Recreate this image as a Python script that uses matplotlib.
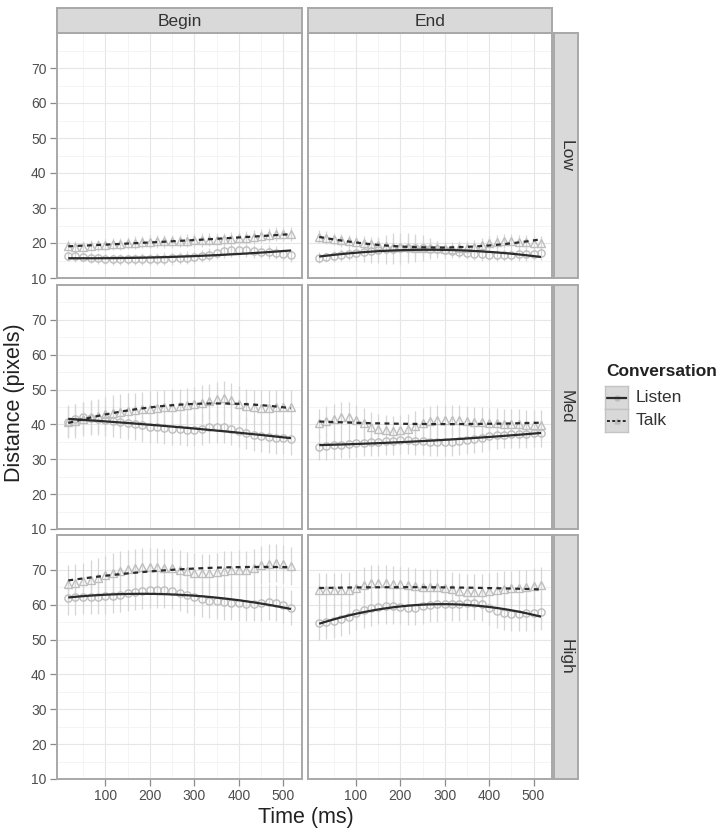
import matplotlib
matplotlib.use("Agg")
import matplotlib.pyplot as plt
import numpy as np

plt.rcParams['font.family'] = ['Liberation Sans', 'DejaVu Sans']

# ---------------- data ----------------
time_ms = [17, 33, 50, 67, 83, 100, 117, 133, 150, 167, 183, 200, 217, 233, 250, 267,
           283, 300, 317, 333, 350, 367, 383, 400, 417, 433, 450, 467, 483, 500, 517]
col_labels = ["Begin", "End"]
row_labels = ["Low", "Med", "High"]
series_labels = ["Listen", "Talk"]
y_ticks = [10, 20, 30, 40, 50, 60, 70]
x_ticks = [100, 200, 300, 400, 500]

# Low / Begin
listen_low_begin = [16.3, 16.2, 16.0, 15.8, 15.6, 15.5, 15.4, 15.3, 15.3, 15.3, 15.4, 15.4, 15.5, 15.5, 15.6, 15.7,
                    15.8, 16.0, 16.3, 16.7, 17.2, 17.6, 17.9, 18.0, 17.9, 17.6, 17.5, 17.4, 17.2, 16.8, 16.5]
listen_err_low_begin = [1.5, 1.5, 1.5, 1.5, 1.5, 1.6, 1.6, 1.6, 1.7, 1.7, 1.7, 1.7, 1.7, 1.8, 1.8, 1.8,
                        1.8, 1.8, 1.8, 1.9, 1.9, 1.9, 1.9, 1.9, 1.9, 1.9, 1.9, 1.9, 1.9, 1.9, 1.9]
talk_low_begin = [19.2, 19.0, 19.0, 19.2, 19.3, 19.5, 19.6, 19.8, 20.0, 20.1, 20.3, 20.4, 20.5, 20.5, 20.5, 20.6,
                  20.7, 20.8, 20.9, 21.0, 21.0, 21.1, 21.2, 21.3, 21.5, 21.8, 22.0, 22.3, 22.5, 22.5, 22.6]
talk_err_low_begin = [1.6, 1.6, 1.6, 1.6, 1.7, 1.7, 1.7, 1.7, 1.7, 1.8, 1.8, 1.8, 1.8, 1.8, 1.8, 1.8,
                      1.8, 1.9, 1.9, 1.9, 1.9, 1.9, 1.9, 2.0, 2.0, 2.0, 2.0, 2.0, 2.0, 2.0, 2.0]
# Low / End
listen_low_end = [15.8, 16.0, 16.3, 16.6, 16.9, 17.2, 17.4, 17.7, 18.0, 18.2, 18.4, 18.5, 18.6, 18.7, 18.6, 18.4,
                  18.2, 18.0, 17.8, 17.5, 17.2, 17.0, 16.8, 16.6, 16.6, 16.6, 16.7, 16.8, 16.9, 17.0, 17.1]
listen_err_low_end = [1.5, 1.5, 1.6, 1.6, 1.8, 2.2, 2.8, 3.4, 3.8, 4.2, 4.4, 4.4, 4.3, 4.0, 3.6, 3.0,
                      2.5, 2.2, 2.0, 1.9, 1.8, 1.8, 1.8, 1.8, 1.8, 1.8, 1.9, 1.9, 1.9, 1.9, 1.9]
talk_low_end = [21.8, 21.5, 21.1, 20.8, 20.5, 20.2, 19.9, 19.6, 19.4, 19.2, 19.0, 18.9, 18.8, 18.7, 18.6, 18.5,
                18.5, 18.4, 18.4, 18.5, 18.7, 19.0, 19.5, 20.0, 20.4, 20.6, 20.5, 20.3, 20.2, 20.1, 20.1]
talk_err_low_end = [1.8, 1.8, 1.8, 1.8, 1.9, 1.9, 2.0, 2.0, 2.1, 2.2, 2.4, 2.6, 2.7, 2.6, 2.4, 2.2,
                    2.0, 2.0, 2.0, 2.0, 2.0, 2.0, 2.0, 2.0, 2.0, 2.0, 2.0, 2.0, 2.0, 2.0, 2.0]
# Med / Begin
listen_med_begin = [40.8, 41.5, 42.0, 41.8, 41.5, 41.2, 40.9, 40.6, 40.3, 40.0, 39.7, 39.4, 39.2, 39.0, 38.8, 38.6,
                    38.4, 38.5, 38.8, 39.2, 39.4, 39.2, 38.7, 38.0, 37.5, 37.0, 36.7, 36.4, 36.2, 36.0, 35.9]
listen_err_med_begin = [4.4, 4.4, 4.5, 4.5, 4.5, 4.5, 4.6, 4.6, 4.6, 4.6, 4.6, 4.6, 4.6, 4.6, 4.6, 4.6,
                        4.6, 4.6, 4.6, 4.6, 4.6, 4.6, 4.6, 4.6, 4.6, 4.6, 4.6, 4.6, 4.6, 4.6, 4.6]
talk_med_begin = [40.8, 41.0, 41.5, 42.0, 42.5, 43.0, 43.3, 43.6, 43.9, 44.1, 44.3, 44.5, 44.7, 44.9, 45.1, 45.3,
                  45.5, 45.8, 46.2, 46.7, 47.2, 47.5, 47.0, 46.0, 45.3, 45.0, 44.8, 44.8, 44.9, 45.0, 44.9]
talk_err_med_begin = [4.8, 4.8, 4.8, 4.9, 4.9, 4.9, 5.0, 5.0, 5.0, 5.0, 5.0, 5.0, 5.0, 5.0, 5.0, 5.0,
                      5.0, 5.0, 5.0, 5.0, 5.0, 5.0, 5.0, 5.0, 5.0, 5.0, 5.0, 5.0, 5.0, 5.0, 5.0]
# Med / End
listen_med_end = [33.5, 33.7, 34.0, 34.2, 34.4, 34.6, 34.8, 34.9, 35.0, 35.2, 35.3, 35.4, 35.4, 35.3, 35.2, 35.0,
                  34.9, 34.9, 35.0, 35.2, 35.5, 35.8, 36.2, 36.6, 36.9, 37.1, 37.2, 37.3, 37.3, 37.4, 37.4]
listen_err_med_end = [3.8, 3.8, 3.8, 3.9, 3.9, 3.9, 4.0, 4.0, 4.0, 4.0, 4.0, 4.0, 4.0, 4.0, 4.0, 4.0,
                      4.0, 4.0, 4.0, 4.0, 4.0, 4.0, 4.0, 4.0, 4.0, 4.0, 4.0, 4.0, 4.0, 4.0, 4.0]
talk_med_end = [40.3, 41.0, 41.7, 42.2, 42.0, 41.3, 40.3, 39.3, 38.6, 38.3, 38.2, 38.4, 38.8, 39.5, 40.3, 40.9,
                41.3, 41.4, 41.3, 41.2, 41.0, 40.8, 40.6, 40.4, 40.3, 40.2, 40.1, 40.0, 39.9, 39.9, 39.9]
talk_err_med_end = [4.2, 4.2, 4.3, 4.3, 4.3, 4.3, 4.3, 4.3, 4.3, 4.3, 4.3, 4.3, 4.3, 4.3, 4.3, 4.3,
                    4.3, 4.3, 4.3, 4.3, 4.3, 4.3, 4.3, 4.3, 4.3, 4.3, 4.3, 4.3, 4.3, 4.3, 4.3]
# High / Begin
listen_high_begin = [62.0, 62.1, 62.2, 62.2, 62.3, 62.4, 62.6, 62.9, 63.3, 63.7, 64.0, 64.2, 64.3, 64.2, 63.9, 63.4,
                     62.8, 62.2, 61.6, 61.2, 61.0, 60.8, 60.6, 60.4, 60.3, 60.3, 60.5, 60.7, 60.5, 59.8, 59.2]
listen_err_high_begin = [5.0, 5.0, 5.0, 5.0, 5.1, 5.1, 5.1, 5.1, 5.1, 5.1, 5.1, 5.1, 5.1, 5.1, 5.1, 5.1,
                         5.1, 5.1, 5.1, 5.1, 5.1, 5.1, 5.1, 5.1, 5.1, 5.1, 5.1, 5.1, 5.1, 5.1, 5.1]
talk_high_begin = [66.0, 66.3, 66.7, 67.2, 67.8, 68.5, 69.2, 69.8, 70.3, 70.6, 70.8, 70.8, 70.8, 70.6, 70.4, 70.1,
                   69.6, 69.2, 69.0, 69.1, 69.4, 69.8, 70.0, 70.1, 70.0, 70.5, 71.3, 71.8, 71.9, 71.6, 71.2]
talk_err_high_begin = [5.4, 5.4, 5.4, 5.5, 5.5, 5.5, 5.5, 5.5, 5.5, 5.5, 5.5, 5.5, 5.5, 5.5, 5.5, 5.5,
                       5.5, 5.5, 5.5, 5.5, 5.5, 5.5, 5.5, 5.5, 5.5, 5.5, 5.5, 5.5, 5.5, 5.5, 5.5]
# High / End
listen_high_end = [54.7, 54.9, 55.3, 55.8, 56.6, 57.6, 58.4, 59.0, 59.4, 59.6, 59.6, 59.4, 59.2, 59.2, 59.5, 59.9,
                   60.1, 60.2, 60.2, 60.3, 60.5, 60.6, 60.2, 59.2, 58.3, 57.7, 57.4, 57.4, 57.5, 57.6, 57.8]
listen_err_high_end = [4.8, 4.8, 4.8, 4.9, 4.9, 4.9, 5.0, 5.0, 5.0, 5.0, 5.0, 5.0, 5.0, 5.0, 5.0, 5.0,
                       5.0, 5.0, 5.0, 5.0, 5.0, 5.0, 5.0, 5.0, 5.0, 5.0, 5.0, 5.0, 5.0, 5.0, 5.0]
talk_high_end = [64.2, 64.2, 64.2, 64.2, 64.3, 64.8, 65.6, 66.2, 66.3, 66.2, 66.0, 65.8, 65.6, 65.4, 65.2, 65.2,
                 65.1, 64.8, 64.4, 64.0, 63.7, 63.6, 63.7, 63.9, 64.2, 64.5, 64.7, 64.8, 65.0, 65.3, 65.6]
talk_err_high_end = [5.0, 5.0, 5.0, 5.0, 5.1, 5.1, 5.1, 5.1, 5.1, 5.1, 5.1, 5.1, 5.1, 5.1, 5.1, 5.1,
                     5.1, 5.1, 5.1, 5.1, 5.1, 5.1, 5.1, 5.1, 5.1, 5.1, 5.1, 5.1, 5.1, 5.1, 5.1]

panels = {
    ("Low", "Begin"): (listen_low_begin, listen_err_low_begin, talk_low_begin, talk_err_low_begin),
    ("Low", "End"): (listen_low_end, listen_err_low_end, talk_low_end, talk_err_low_end),
    ("Med", "Begin"): (listen_med_begin, listen_err_med_begin, talk_med_begin, talk_err_med_begin),
    ("Med", "End"): (listen_med_end, listen_err_med_end, talk_med_end, talk_err_med_end),
    ("High", "Begin"): (listen_high_begin, listen_err_high_begin, talk_high_begin, talk_err_high_begin),
    ("High", "End"): (listen_high_end, listen_err_high_end, talk_high_end, talk_err_high_end),
}

# ---------------- layout ----------------
W, H = 722, 836
fig = plt.figure(figsize=(W / 100, H / 100), dpi=100)
fig.patch.set_facecolor("white")

def px_axes(x0, y0, x1, y1):
    return fig.add_axes([x0 / W, 1 - y1 / H, (x1 - x0) / W, (y1 - y0) / H])

col_x = [(57, 302), (308, 552)]
row_y = [(33, 278), (285, 529), (535, 779)]
strip_top = (8, 33)
strip_right = (554, 578)

border_col = "#A8A8A8"
strip_fill = "#D9D9D9"
tick_col = "#8A8A8A"
pt_col = "#BEBEBE"
err_col = "#D6D6D6"
line_col = "#2B2B2B"

t = np.array(time_ms, dtype=float)
t_fine = np.linspace(t.min(), t.max(), 200)

for ri, rlab in enumerate(row_labels):
    for ci, clab in enumerate(col_labels):
        x0, x1 = col_x[ci]
        y0, y1 = row_y[ri]
        ax = px_axes(x0, y0, x1, y1)
        lv, le, tv, te = [np.array(a, dtype=float) for a in panels[(rlab, clab)]]
        ax.set_xlim(-8.3, 541.7)
        ax.set_ylim(10, 80)
        ax.set_xticks(x_ticks)
        ax.set_xticks([50, 150, 250, 350, 450], minor=True)
        ax.set_yticks(y_ticks)
        ax.set_yticks([15, 25, 35, 45, 55, 65, 75], minor=True)
        ax.grid(True, which="major", color="#E6E6E6", lw=0.8)
        ax.grid(True, which="minor", color="#F3F3F3", lw=0.6)
        ax.set_axisbelow(True)
        for s in ax.spines.values():
            s.set_color(border_col)
            s.set_linewidth(1.4)
        ax.tick_params(which="minor", length=0)
        ax.tick_params(which="major", direction="out", length=5, width=0.9,
                       color=tick_col, labelcolor="#4D4D4D", labelsize=10, pad=2.5)
        if ci != 0:
            ax.tick_params(axis="y", left=False, labelleft=False)
        if ri != 2:
            ax.tick_params(axis="x", bottom=False, labelbottom=False)

        # error bars
        ax.vlines(t, lv - le, lv + le, color=err_col, lw=0.9, zorder=2)
        ax.vlines(t, tv - te, tv + te, color=err_col, lw=0.9, zorder=2)
        # points
        ax.plot(t, lv, ls="none", marker="o", ms=5.2, mfc="none", mec=pt_col, mew=1.0, zorder=3)
        ax.plot(t, tv, ls="none", marker="^", ms=5.4, mfc="none", mec=pt_col, mew=1.0, zorder=3)
        # smooth fits
        lfit = np.polyval(np.polyfit(t, lv, 2), t_fine)
        tfit = np.polyval(np.polyfit(t, tv, 2), t_fine)
        ax.plot(t_fine, lfit, color=line_col, lw=1.6, solid_capstyle="butt", zorder=4)
        ax.plot(t_fine, tfit, color=line_col, lw=1.6, dashes=(2.2, 2.0), zorder=4)

# column strips
for ci, clab in enumerate(col_labels):
    x0, x1 = col_x[ci]
    sa = px_axes(x0, strip_top[0], x1, strip_top[1])
    sa.set_facecolor(strip_fill)
    sa.set_xticks([]); sa.set_yticks([])
    for s in sa.spines.values():
        s.set_color(border_col); s.set_linewidth(1.4)
    sa.text(0.5, 0.47, clab, ha="center", va="center", fontsize=12.5, color="#333333",
            transform=sa.transAxes)

# row strips
for ri, rlab in enumerate(row_labels):
    y0, y1 = row_y[ri]
    sa = px_axes(strip_right[0], y0, strip_right[1], y1)
    sa.set_facecolor(strip_fill)
    sa.set_xticks([]); sa.set_yticks([])
    for s in sa.spines.values():
        s.set_color(border_col); s.set_linewidth(1.4)
    sa.text(0.5, 0.5, rlab, ha="center", va="center", fontsize=12.5, color="#333333",
            rotation=-90, transform=sa.transAxes)

# axis titles
fig.text(306 / W, 1 - 817 / H, "Time (ms)", ha="center", va="center", fontsize=15.5, color="#222222")
fig.text(15 / W, 1 - 403 / H, "Distance (pixels)", ha="center", va="center", rotation=90,
         fontsize=15.5, color="#222222")

# legend
fig.text(606 / W, 1 - 372 / H, "Conversation", ha="left", va="center", fontsize=12.5,
         fontweight="bold", color="#222222")
key_y = [(386, 409), (409, 432)]
for k, lab in enumerate(series_labels):
    ka = px_axes(605, key_y[k][0], 628, key_y[k][1])
    ka.set_facecolor(strip_fill)
    ka.set_xlim(0, 1); ka.set_ylim(0, 1)
    ka.set_xticks([]); ka.set_yticks([])
    for s in ka.spines.values():
        s.set_color("#C4C4C4"); s.set_linewidth(1.0)
    if k == 0:
        ka.plot([0.5], [0.5], ls="none", marker="o", ms=3.5, mfc="#BDBDBD", mec="#BDBDBD", zorder=1)
        ka.plot([0.1, 0.9], [0.5, 0.5], color=line_col, lw=1.6, zorder=2)
    else:
        ka.plot([0.5], [0.5], ls="none", marker="^", ms=3.5, mfc="#BDBDBD", mec="#BDBDBD", zorder=1)
        ka.plot([0.1, 0.9], [0.5, 0.5], color=line_col, lw=1.4, dashes=(1.5, 1.2), zorder=2)
    fig.text(636 / W, 1 - (key_y[k][0] + key_y[k][1]) / 2 / H, lab, ha="left", va="center",
             fontsize=12.5, color="#333333")

fig.savefig("out.png", dpi=100, facecolor="white")
